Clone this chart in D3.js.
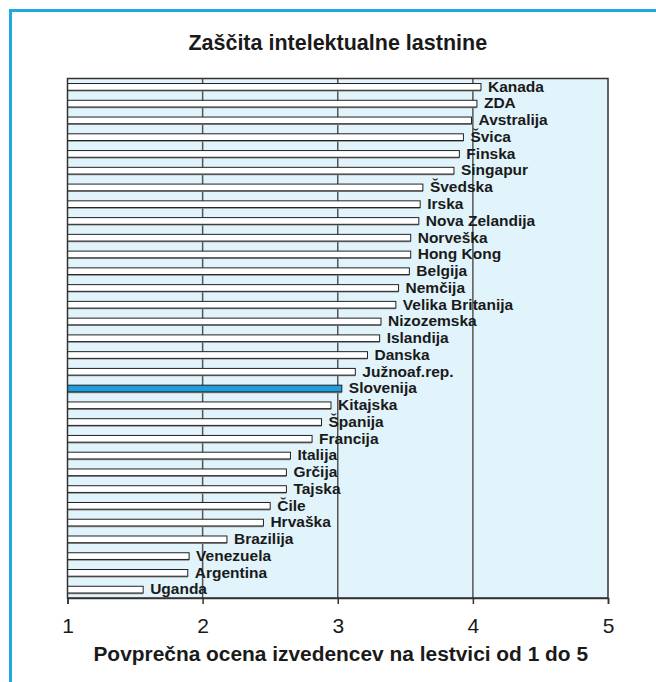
<!DOCTYPE html>
<html>
<head>
<meta charset="utf-8">
<script src="https://cdn.jsdelivr.net/npm/d3@7"></script>
<style>
  body { margin: 0; background: #fff; }
  svg { display: block; font-family: "Liberation Sans", Arial, sans-serif; }
</style>
</head>
<body>
<div id="container"></div>
<script>
let w = 656;
let h = 682;

const countries = ["Kanada", "ZDA", "Avstralija", "Švica", "Finska", "Singapur", "Švedska", "Irska",
  "Nova Zelandija", "Norveška", "Hong Kong", "Belgija", "Nemčija", "Velika Britanija", "Nizozemska",
  "Islandija", "Danska", "Južnoaf.rep.", "Slovenija", "Kitajska", "Španija", "Francija", "Italija",
  "Grčija", "Tajska", "Čile", "Hrvaška", "Brazilija", "Venezuela", "Argentina", "Uganda"];
const scores = [4.06, 4.03, 3.99, 3.93, 3.90, 3.86, 3.63, 3.61,
  3.60, 3.54, 3.54, 3.53, 3.45, 3.43, 3.32,
  3.31, 3.22, 3.13, 3.03, 2.95, 2.88, 2.81, 2.65,
  2.62, 2.62, 2.50, 2.45, 2.18, 1.90, 1.89, 1.56];
const highlight = "Slovenija";
const ticks = [1, 2, 3, 4, 5];
const gridTicks = [2, 3, 4];

const data = countries.map((c, i) => ({name: c, value: scores[i]}));

let pLeft = 67.5, pRight = 608, pTop = 78.5, pBottom = 598;

let svg = d3.select("#container")
  .append("svg")
    .attr("width", w)
    .attr("height", h);

// blue frame
svg.append("rect")
  .attr("x", 10.5).attr("y", 10.5)
  .attr("width", 800).attr("height", 800)
  .attr("fill", "none")
  .attr("stroke", "#1ea9e4")
  .attr("stroke-width", 3);

let x = d3.scaleLinear().domain([1, 5]).range([pLeft, pRight]);
let y = d3.scaleBand().domain(countries).range([pTop, pBottom])
  .paddingInner(0.6).paddingOuter(0.3);

// plot background
svg.append("rect")
  .attr("x", pLeft).attr("y", pTop)
  .attr("width", pRight - pLeft).attr("height", pBottom - pTop)
  .attr("fill", "#e1f4fb");

// gridlines
svg.append("g")
  .selectAll("line")
  .data(gridTicks)
  .join("line")
    .attr("x1", d => x(d)).attr("x2", d => x(d))
    .attr("y1", pTop).attr("y2", pBottom)
    .attr("stroke", "#555")
    .attr("stroke-width", 1.5);

// bars
let bars = svg.append("g");
bars.selectAll("line.shadow")
  .data(data)
  .join("line")
    .attr("class", "shadow")
    .attr("x1", pLeft).attr("x2", d => x(d.value))
    .attr("y1", d => y(d.name) + y.bandwidth() + 0.5)
    .attr("y2", d => y(d.name) + y.bandwidth() + 0.5)
    .attr("stroke", "#8a8a8a")
    .attr("stroke-width", 1.5);

bars.selectAll("rect")
  .data(data)
  .join("rect")
    .attr("x", pLeft)
    .attr("y", d => y(d.name))
    .attr("width", d => x(d.value) - pLeft)
    .attr("height", y.bandwidth())
    .attr("fill", d => d.name == highlight ? "#1c9fdc" : "#fff")
    .attr("stroke", "#222")
    .attr("stroke-width", 1);

// labels
svg.append("g")
  .selectAll("text")
  .data(data)
  .join("text")
    .attr("x", d => x(d.value) + 7)
    .attr("y", d => y(d.name) + y.bandwidth() / 2 + 4.8)
    .attr("font-size", 15.5)
    .attr("font-weight", "bold")
    .attr("fill", "#1a1a1a")
    .text(d => d.name);

// plot border
svg.append("rect")
  .attr("x", pLeft).attr("y", pTop)
  .attr("width", pRight - pLeft).attr("height", pBottom - pTop)
  .attr("fill", "none")
  .attr("stroke", "#333")
  .attr("stroke-width", 1.5);

// x axis
let axis = svg.append("g")
  .attr("transform", `translate(0,${pBottom})`)
  .call(d3.axisBottom(x).tickValues(ticks).tickSize(6).tickPadding(14).tickFormat(d3.format("d")));
axis.select(".domain").attr("stroke", "#333").attr("stroke-width", 1.5);
axis.selectAll(".tick line").attr("stroke", "#333").attr("stroke-width", 1.5);
axis.selectAll(".tick text")
  .attr("font-size", 21)
  .attr("font-family", "Liberation Sans, Arial, sans-serif")
  .attr("fill", "#1a1a1a");

// titles
svg.append("text")
  .attr("x", (pLeft + pRight) / 2)
  .attr("y", 50)
  .attr("text-anchor", "middle")
  .attr("font-size", 21.5)
  .attr("font-weight", "bold")
  .attr("fill", "#1a1a1a")
  .text("Zaščita intelektualne lastnine");

svg.append("text")
  .attr("x", (pLeft + pRight) / 2 + 3)
  .attr("y", 661)
  .attr("text-anchor", "middle")
  .attr("font-size", 20.9)
  .attr("font-weight", "bold")
  .attr("fill", "#1a1a1a")
  .text("Povprečna ocena izvedencev na lestvici od 1 do 5");
</script>
</body>
</html>
